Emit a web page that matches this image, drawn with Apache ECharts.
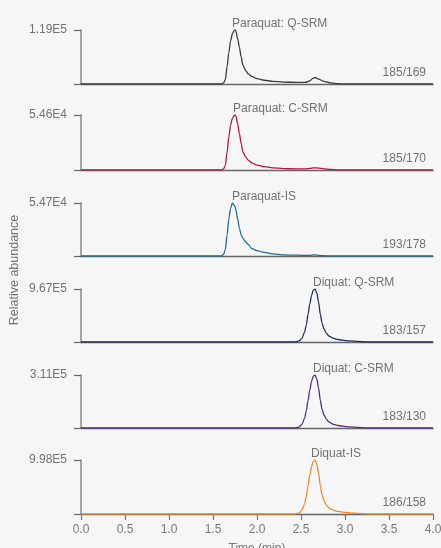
<!DOCTYPE html>
<html>
<head>
<meta charset="utf-8">
<script src="https://cdn.jsdelivr.net/npm/echarts@6/dist/echarts.min.js"></script>
<style>
html,body{margin:0;padding:0;background:#f6f6f6;}
#c{width:441px;height:548px;}
</style>
</head>
<body>
<div id="c"></div>
<script>
// ---- data ----
const panelNames = ['Paraquat: Q-SRM', 'Paraquat: C-SRM', 'Paraquat-IS', 'Diquat: Q-SRM', 'Diquat: C-SRM', 'Diquat-IS'];
const transitions = ['185/169', '185/170', '193/178', '183/157', '183/130', '186/158'];
const yMaxValues = [119000, 54600, 54700, 967000, 311000, 998000];
const yMaxLabels = ['1.19E5', '5.46E4', '5.47E4', '9.67E5', '3.11E5', '9.98E5'];
const xTickLabels = ['0.0', '0.5', '1.0', '1.5', '2.0', '2.5', '3.0', '3.5', '4.0'];

const pqTimes = [0, 1.55, 1.59, 1.62, 1.64, 1.66, 1.68, 1.70, 1.72, 1.74, 1.75, 1.76, 1.78, 1.80, 1.82, 1.84, 1.87, 1.90, 1.94, 2.00, 2.08, 2.18, 2.30, 2.45, 2.55, 2.60, 2.64, 2.66, 2.70, 2.76, 2.84, 2.92, 3.00, 4.00];
const pqQValues = [0, 0, 0, 2400, 9500, 38100, 69000, 95200, 110700, 117800, 119000, 116600, 100000, 80900, 59500, 41700, 29800, 22600, 16700, 11900, 8300, 6000, 4200, 3600, 3600, 7100, 13100, 14300, 10700, 6000, 2400, 600, 0, 0];
const pqCValues = [0, 0, 0, 1100, 4400, 18000, 32800, 44800, 51300, 54100, 54600, 53500, 45900, 36000, 26200, 18000, 13100, 9800, 7100, 4900, 3300, 2200, 1400, 1100, 1100, 1600, 2200, 2200, 1900, 1100, 550, 0, 0, 0];
const pqISValues = [0, 0, 0, 1600, 6600, 21900, 38300, 49200, 54700, 52500, 50900, 47600, 38300, 28400, 21900, 18100, 14800, 12000, 7700, 5500, 3800, 2200, 1100, 800, 550, 550, 1100, 1100, 550, 300, 0, 0, 0, 0];

const dqTimes = [0, 2.44, 2.48, 2.51, 2.54, 2.56, 2.58, 2.60, 2.62, 2.64, 2.66, 2.68, 2.70, 2.72, 2.74, 2.76, 2.79, 2.82, 2.86, 2.91, 2.97, 3.05, 3.15, 3.25, 4.00];
const dqQValues = [0, 0, 19300, 67700, 174100, 309400, 502800, 696200, 851000, 947700, 967000, 889600, 725300, 502800, 338500, 241800, 154700, 106400, 72500, 48400, 33800, 19300, 9700, 0, 0];
const dqCValues = [0, 0, 6200, 21800, 56000, 99500, 161700, 223900, 273700, 304800, 311000, 286100, 233300, 161700, 108900, 77800, 49800, 34200, 23300, 15600, 10900, 6200, 3100, 0, 0];
const dqISValues = [0, 0, 20000, 69900, 179600, 319400, 519000, 718600, 878200, 978000, 998000, 918200, 748500, 519000, 349300, 249500, 159700, 109800, 74900, 49900, 34900, 20000, 10000, 0, 0];

// ---- layout / style ----
const seriesTimes = [pqTimes, pqTimes, pqTimes, dqTimes, dqTimes, dqTimes];
const seriesValues = [pqQValues, pqCValues, pqISValues, dqQValues, dqCValues, dqISValues];
const colors = ['#3a3a3a', '#b3173a', '#1f6e8e', '#222a5e', '#4e2f7e', '#f0892a'];
const tops = [30, 115, 203, 289, 375, 460];
const heights = [54, 55, 53, 53, 53, 54];
const titleX = [232, 233, 232, 313, 313, 311];
const FONT = 'Liberation Sans, Arial, sans-serif';
const TXT = '#727272';

const grids = [], xAxes = [], yAxes = [], series = [], graphics = [];
for (let i = 0; i < 6; i++) {
  const last = i === 5;
  grids.push({left: 81, right: 8, top: tops[i], height: heights[i], containLabel: false, outerBoundsMode: 'none'});
  xAxes.push({
    type: 'value', gridIndex: i, min: 0, max: 4, interval: 0.5,
    axisLine: {show: true, lineStyle: {color: '#666', width: 1.3}},
    axisTick: {show: last, length: 6, lineStyle: {color: '#777', width: 1.2}},
    axisLabel: {show: last, margin: 10, color: '#7a7a7a', fontSize: 12, fontFamily: FONT,
      formatter: v => xTickLabels[Math.round(v / 0.5)]},
    splitLine: {show: false},
    name: last ? 'Time (min)' : '', nameLocation: 'middle', nameGap: 29,
    nameTextStyle: {color: TXT, fontSize: 12, fontFamily: FONT}
  });
  const ym = yMaxValues[i], yl = yMaxLabels[i];
  yAxes.push({
    type: 'value', gridIndex: i, min: 0, max: ym, interval: ym,
    axisLine: {show: true, lineStyle: {color: '#8a8a8a', width: 1.5}},
    axisTick: {show: true, length: 7, lineStyle: {color: '#666', width: 1.2}},
    axisLabel: {margin: 14, color: TXT, fontSize: 12, fontFamily: FONT, padding: [4, 0, 0, 0],
      formatter: v => (v === ym ? yl : '')},
    splitLine: {show: false}
  });
  const t = seriesTimes[i], v = seriesValues[i];
  series.push({
    type: 'line', xAxisIndex: i, yAxisIndex: i, name: panelNames[i],
    data: t.map((x, k) => [x, v[k]]),
    showSymbol: false, smooth: 0.3, smoothMonotone: 'x',
    lineStyle: {color: colors[i], width: 1.3}, z: 5
  });
  graphics.push({
    type: 'text', left: titleX[i], top: tops[i] - 12.5,
    style: {text: panelNames[i], fill: TXT, font: '12px ' + FONT, textAlign: 'center'}
  });
  graphics.push({
    type: 'text', right: 15, top: tops[i] + heights[i] - 17.5,
    style: {text: transitions[i], fill: TXT, font: '12px ' + FONT, textAlign: 'right'}
  });
}
graphics.push({
  type: 'text', x: 15, y: 270, rotation: Math.PI / 2,
  style: {text: 'Relative abundance', fill: TXT, font: '12.5px ' + FONT, textAlign: 'center', textVerticalAlign: 'middle'}
});

const chart = echarts.init(document.getElementById('c'), null, {renderer: 'canvas'});
chart.setOption({
  backgroundColor: '#f6f6f6',
  animation: false,
  grid: grids, xAxis: xAxes, yAxis: yAxes, series: series, graphic: graphics
});
</script>
</body>
</html>
